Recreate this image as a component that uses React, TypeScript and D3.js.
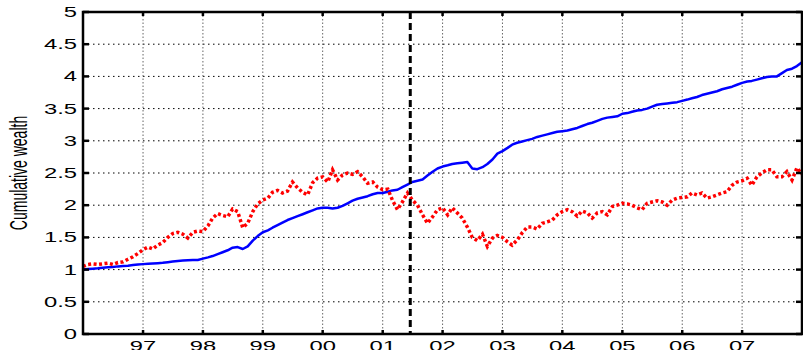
import React from 'react';
import * as d3 from 'd3';

// monthly cumulative wealth, Jan 1996 .. Jan 2008
const blueWealth = [
  1.00, 1.01, 1.015, 1.02, 1.03, 1.035, 1.04, 1.05, 1.055, 1.06, 1.07, 1.08,
  1.085, 1.09, 1.095, 1.10, 1.105, 1.115, 1.125, 1.135, 1.14, 1.145, 1.15, 1.15,
  1.17, 1.19, 1.21, 1.24, 1.27, 1.30, 1.34, 1.35, 1.32, 1.36, 1.45, 1.52,
  1.58, 1.61, 1.65, 1.69, 1.73, 1.77, 1.80, 1.83, 1.86, 1.89, 1.92, 1.95,
  1.96, 1.96, 1.95, 1.96, 1.99, 2.03, 2.07, 2.10, 2.12, 2.14, 2.17, 2.19,
  2.19, 2.21, 2.23, 2.24, 2.28, 2.32, 2.36, 2.38, 2.40, 2.46, 2.52, 2.57,
  2.60, 2.62, 2.64, 2.65, 2.66, 2.67, 2.57, 2.56, 2.59, 2.64, 2.71, 2.80,
  2.84, 2.89, 2.94, 2.97, 2.99, 3.01, 3.03, 3.06, 3.08, 3.10, 3.12, 3.14,
  3.15, 3.16, 3.18, 3.20, 3.23, 3.26, 3.28, 3.31, 3.34, 3.36, 3.37, 3.38,
  3.42, 3.43, 3.45, 3.47, 3.48, 3.50, 3.53, 3.56, 3.57, 3.58, 3.59, 3.60,
  3.62, 3.64, 3.66, 3.68, 3.71, 3.73, 3.75, 3.77, 3.80, 3.82, 3.84, 3.87,
  3.90, 3.92, 3.93, 3.95, 3.97, 3.99, 4.00, 4.00, 4.05, 4.10, 4.12, 4.16,
  4.22,
];

const redWealth = [
  1.05, 1.08, 1.09, 1.08, 1.09, 1.10, 1.08, 1.11, 1.12, 1.16, 1.20, 1.25,
  1.31, 1.35, 1.32, 1.38, 1.42, 1.50, 1.56, 1.58, 1.55, 1.49, 1.58, 1.60,
  1.59, 1.68, 1.80, 1.87, 1.84, 1.82, 1.94, 1.90, 1.65, 1.72, 1.90, 2.02,
  2.08, 2.11, 2.20, 2.23, 2.19, 2.22, 2.36, 2.27, 2.20, 2.16, 2.35, 2.42,
  2.44, 2.36, 2.55, 2.39, 2.47, 2.50, 2.48, 2.52, 2.44, 2.34, 2.36, 2.28,
  2.24, 2.25, 2.08, 1.93, 2.05, 2.19, 2.08, 2.00, 1.85, 1.72, 1.82, 1.93,
  1.96, 1.85, 1.96, 1.88, 1.80, 1.66, 1.50, 1.45, 1.55, 1.36, 1.49, 1.53,
  1.50, 1.43, 1.38, 1.46, 1.57, 1.66, 1.66, 1.63, 1.72, 1.74, 1.77, 1.85,
  1.90, 1.93, 1.90, 1.83, 1.91, 1.88, 1.80, 1.88, 1.90, 1.85, 1.98, 2.00,
  2.03, 2.02, 2.00, 1.96, 1.93, 2.03, 2.05, 2.07, 2.05, 2.00, 2.08, 2.11,
  2.12, 2.13, 2.19, 2.16, 2.19, 2.11, 2.13, 2.16, 2.19, 2.21, 2.31, 2.36,
  2.38, 2.42, 2.31, 2.44, 2.50, 2.55, 2.55, 2.44, 2.44, 2.52, 2.39, 2.58,
  2.48,
];

const yTicks = [0, 0.5, 1, 1.5, 2, 2.5, 3, 3.5, 4, 4.5, 5];
const yTickLabels = ['0', '0.5', '1', '1.5', '2', '2.5', '3', '3.5', '4', '4.5', '5'];
const tickYears = [1997, 1998, 1999, 2000, 2001, 2002, 2003, 2004, 2005, 2006, 2007];
const tickYearLabels = ['97', '98', '99', '00', '01', '02', '03', '04', '05', '06', '07'];
const splitDate = new Date(2001, 5, 18);

const W = 803;
const H = 350;
const left = 83;
const right = 802;
const top = 12;
const bottom = 334;
// the original figure was stretched sideways, text included
const stretch = 1.7;

export default function App() {
  const months = d3.timeMonth.range(new Date(1996, 0, 1), new Date(2008, 0, 2));

  const x = d3.scaleTime()
    .domain([new Date(1996, 0, 1), new Date(2008, 0, 1)])
    .range([left, right]);
  const y = d3.scaleLinear().domain([0, 5]).range([bottom, top]);

  const line = d3.line<number>()
    .x((_, i) => x(months[i]))
    .y(d => y(d));

  const font = '"Liberation Sans", Arial, Helvetica, sans-serif';

  return (
    <svg width={W} height={H} style={{ position: 'absolute', left: 0, top: 0, background: '#fff' }}>
      <rect x={0} y={0} width={W} height={H} fill="#fff" />

      {/* grid */}
      {yTicks.filter(t => t > 0 && t < 5).map(t => (
        <line key={'gy' + t} x1={left} x2={right} y1={y(t)} y2={y(t)}
          stroke="#000" strokeWidth={1} strokeDasharray="1.5 3.5" />
      ))}
      {tickYears.map(yr => {
        const px = x(new Date(yr, 0, 1));
        return (
          <line key={'gx' + yr} x1={px} x2={px} y1={top} y2={bottom}
            stroke="#666" strokeWidth={1} strokeDasharray="1.5 2" />
        );
      })}

      {/* series */}
      <path d={line(blueWealth) ?? ''} fill="none" stroke="#0000ff" strokeWidth={2.5} strokeLinejoin="round" />
      <path d={line(redWealth) ?? ''} fill="none" stroke="#ff0000" strokeWidth={3.5} strokeDasharray="3 2.5" />

      {/* split marker */}
      <line x1={x(splitDate)} x2={x(splitDate)} y1={top} y2={bottom}
        stroke="#000" strokeWidth={3} strokeDasharray="7 4" />

      {/* box */}
      <rect x={left} y={top} width={right - left} height={bottom - top}
        fill="none" stroke="#000" strokeWidth={2.5} />

      {/* ticks */}
      {yTicks.map(t => (
        <g key={'ty' + t}>
          <line x1={left} x2={left + 6} y1={y(t)} y2={y(t)} stroke="#000" strokeWidth={2.5} />
          <line x1={right - 6} x2={right} y1={y(t)} y2={y(t)} stroke="#000" strokeWidth={2.5} />
        </g>
      ))}
      {tickYears.map(yr => {
        const px = x(new Date(yr, 0, 1));
        return (
          <g key={'tx' + yr}>
            <line x1={px} x2={px} y1={top} y2={top + 4} stroke="#000" strokeWidth={2.5} />
            <line x1={px} x2={px} y1={bottom - 4} y2={bottom} stroke="#000" strokeWidth={2.5} />
          </g>
        );
      })}

      {/* tick labels */}
      {yTicks.map((t, i) => (
        <text key={'ly' + t} transform={`translate(77,${y(t)}) scale(${stretch},1)`} dy="0.36em"
          textAnchor="end" fontFamily={font} fontSize={14} fill="#000">{yTickLabels[i]}</text>
      ))}
      {tickYears.map((yr, i) => (
        <text key={'lx' + yr} transform={`translate(${x(new Date(yr, 0, 1))},351) scale(${stretch},1)`}
          textAnchor="middle" fontFamily={font} fontSize={14} fill="#000">{tickYearLabels[i]}</text>
      ))}

      <text transform={`translate(27,${(top + bottom) / 2}) scale(${stretch},1) rotate(-90)`} textAnchor="middle"
        fontFamily={font} fontSize={14} fill="#000">Cumulative wealth</text>
    </svg>
  );
}
